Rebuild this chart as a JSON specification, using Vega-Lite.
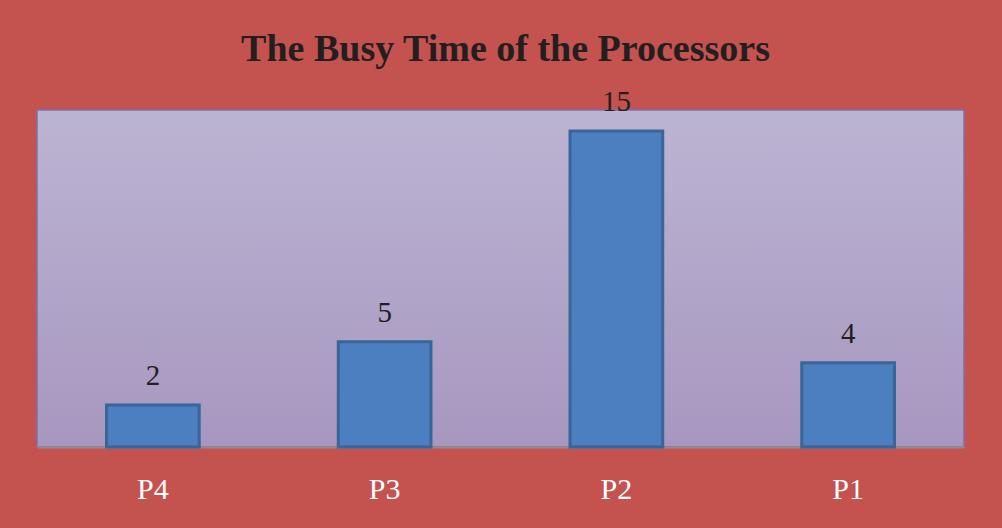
{
  "$schema": "https://vega.github.io/schema/vega-lite/v6.json",
  "width": 927,
  "height": 337,
  "autosize": {"type": "none"},
  "padding": {"left": 37, "top": 110, "right": 38, "bottom": 81},
  "background": "#C4524F",
  "title": {
    "text": "The Busy Time of the Processors",
    "font": "Liberation Serif",
    "fontSize": 38,
    "fontWeight": "bold",
    "color": "#231F20",
    "anchor": "middle",
    "baseline": "alphabetic",
    "offset": 48,
    "dx": 5,
    "dy": 59
  },
  "config": {
    "view": {
      "fill": {"gradient": "linear", "x1": 0, "y1": 0, "x2": 0, "y2": 1,
        "stops": [{"offset": 0, "color": "#BCB4D3"}, {"offset": 1, "color": "#A797BF"}]},
      "stroke": "#7D6FAE",
      "strokeWidth": 1.5
    }
  },
  "data": {
    "values": [
      {"processor": "P4", "time": 2},
      {"processor": "P3", "time": 5},
      {"processor": "P2", "time": 15},
      {"processor": "P1", "time": 4}
    ]
  },
  "encoding": {
    "x": {
      "field": "processor", "type": "nominal", "sort": null,
      "scale": {"paddingInner": 0, "paddingOuter": 0},
      "axis": {
        "title": null, "labelAngle": 0, "ticks": false,
        "domainColor": "#8E8E8E", "domainWidth": 2,
        "labelFont": "Liberation Serif", "labelFontSize": 30,
        "labelColor": "#FFFFFF", "labelBaseline": "alphabetic", "labelPadding": 51
      }
    },
    "y": {
      "field": "time", "type": "quantitative",
      "scale": {"domain": [0, 16], "nice": false},
      "axis": null
    }
  },
  "layer": [
    {
      "mark": {"type": "bar", "width": {"band": 0.4}, "fill": "#4B7FC0", "stroke": "#38659A", "strokeWidth": 3}
    },
    {
      "mark": {"type": "text", "baseline": "alphabetic", "dy": -20, "font": "Liberation Serif", "fontSize": 29, "color": "#231F20"},
      "encoding": {"text": {"field": "time", "type": "quantitative"}}
    }
  ]
}
